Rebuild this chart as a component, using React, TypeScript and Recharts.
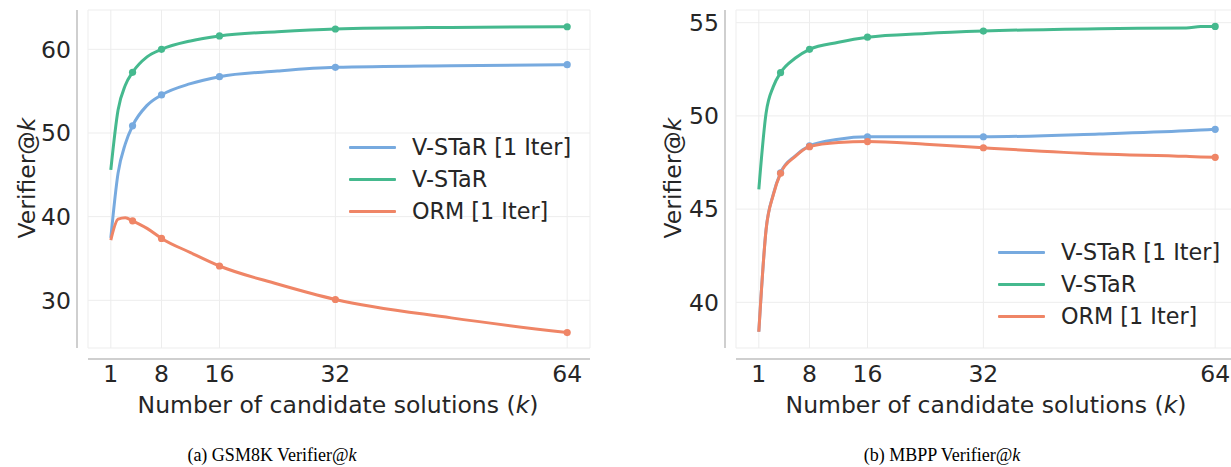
import React from "react";
import {
  LineChart,
  Line,
  XAxis,
  YAxis,
  CartesianGrid,
  Legend,
} from "recharts";

// k values
const ks = [1, 2, 3, 4, 6, 8, 12, 16, 24, 32, 48, 64];
const markerKs = [4, 8, 16, 32, 64];
const xTicks = [1, 8, 16, 32, 64];

// (a) GSM8K
const gsmVstar1 = [37.45, 45.2, 48.7, 50.85, 53.3, 54.55, 55.9, 56.73, 57.4, 57.85, 58.05, 58.16];
const gsmVstar = [45.6, 52.75, 55.7, 57.25, 59.1, 60.0, 61.0, 61.6, 62.1, 62.43, 62.62, 62.7];
const gsmOrm1 = [37.2, 39.7, 39.88, 39.5, 38.6, 37.4, 35.7, 34.1, 31.95, 30.1, 27.9, 26.14];
const gsmYTicks = [30, 40, 50, 60];

// (b) MBPP
const mbppKs = [1, 2, 3, 4, 6, 8, 12, 16, 24, 32, 48, 60, 62, 64];
const mbppVstar1 = [38.42, 43.9, 45.8, 46.95, 47.85, 48.39, 48.75, 48.88, 48.88, 48.88, 49.03, 49.2, 49.24, 49.28];
const mbppVstar = [46.06, 50.14, 51.57, 52.32, 53.09, 53.57, 53.95, 54.22, 54.42, 54.55, 54.68, 54.72, 54.79, 54.8];
const mbppOrm1 = [38.42, 43.88, 45.76, 46.92, 47.81, 48.35, 48.57, 48.62, 48.48, 48.29, 47.96, 47.83, 47.8, 47.78];
const mbppYTicks = [40, 45, 50, 55];

const seriesNames = ["V-STaR [1 Iter]", "V-STaR", "ORM [1 Iter]"];
const colors = ["#77aadf", "#45b98e", "#ef8566"];

const TEXT = "#262626";
const SANS = "DejaVu Sans";
const FS = 23.5;

const buildRows = (xs: number[], a: number[], b: number[], c: number[]) =>
  xs.map((k, i) => ({ k, s0: a[i], s1: b[i], s2: c[i] }));

const renderDot = (props: any) => {
  const { cx, cy, payload, index, stroke } = props;
  if (!markerKs.includes(payload.k)) return <g key={`d-${index}`} />;
  return <circle key={`d-${index}`} cx={cx} cy={cy} r={3.6} fill={stroke} stroke="none" />;
};

const LegendBox = () => (
  <div style={{ fontFamily: SANS, fontSize: 22.3, color: TEXT }}>
    {seriesNames.map((n, i) => (
      <div key={n} style={{ display: "flex", alignItems: "center", height: 32 }}>
        <div style={{ width: 47, height: 3, background: colors[i], marginRight: 16, borderRadius: 1 }} />
        <span>{n}</span>
      </div>
    ))}
  </div>
);

interface PanelProps {
  rows: { k: number; s0: number; s1: number; s2: number }[];
  yDomain: [number, number];
  yTicks: number[];
  legendPos: { left: number; top: number };
}

const Panel = ({ rows, yDomain, yTicks, legendPos }: PanelProps) => (
  <LineChart width={600} height={400} data={rows} margin={{ top: 10, right: 10, left: 0, bottom: 0 }}>
    <CartesianGrid stroke="#ededed" strokeWidth={1} />
    <XAxis
      dataKey="k"
      type="number"
      domain={[-2.15, 67.15]}
      ticks={xTicks}
      allowDataOverflow
      axisLine={false}
      tickLine={false}
      tickSize={0}
      tickMargin={17}
      height={52}
      tick={{ fontFamily: SANS, fontSize: FS, fill: TEXT }}
    />
    <YAxis
      type="number"
      domain={yDomain}
      ticks={yTicks}
      allowDataOverflow
      axisLine={false}
      tickLine={false}
      tickSize={0}
      tickMargin={6 + 11}
      width={88}
      tick={{ fontFamily: SANS, fontSize: FS, fill: TEXT }}
    />
    <Legend
      layout="horizontal"
      verticalAlign="middle"
      align="center"
      content={() => <LegendBox />}
      wrapperStyle={{ position: "absolute", left: legendPos.left, top: legendPos.top, width: "auto", height: "auto" }}
    />
    {["s0", "s1", "s2"].map((key, i) => (
      <Line
        key={key}
        dataKey={key}
        name={seriesNames[i]}
        type="monotone"
        stroke={colors[i]}
        strokeWidth={3}
        dot={renderDot}
        activeDot={false}
        isAnimationActive={false}
      />
    ))}
  </LineChart>
);

const Spines = ({ x0 }: { x0: number }) => (
  <>
    <div style={{ position: "absolute", left: x0 + 76, top: 10, width: 2, height: 338, background: "#cfcfcf" }} />
    <div style={{ position: "absolute", left: x0 + 88, top: 358, width: 502, height: 2, background: "#cfcfcf" }} />
  </>
);

const abs = (left: number, top: number, extra: React.CSSProperties = {}): React.CSSProperties => ({
  position: "absolute",
  left,
  top,
  whiteSpace: "nowrap",
  ...extra,
});

export default function App() {
  const gsmRows = buildRows(ks, gsmVstar1, gsmVstar, gsmOrm1);
  const mbppRows = buildRows(mbppKs, mbppVstar1, mbppVstar, mbppOrm1);
  const axisLabel: React.CSSProperties = { fontFamily: SANS, fontSize: FS, color: TEXT };
  const caption: React.CSSProperties = { fontFamily: "Liberation Serif", fontSize: 18, color: "#000" };
  return (
    <div style={{ position: "absolute", left: 0, top: 0, width: 1231, height: 467, overflow: "hidden", background: "#fff" }}>
      <div style={abs(0, 0)}>
        <Panel rows={gsmRows} yDomain={[24.3, 64.7]} yTicks={gsmYTicks} legendPos={{ left: 349, top: 131 }} />
      </div>
      <div style={abs(648, 0)}>
        <Panel rows={mbppRows} yDomain={[37.55, 55.68]} yTicks={mbppYTicks} legendPos={{ left: 350, top: 236 }} />
      </div>
      <Spines x0={0} />
      <Spines x0={648} />

      <div style={abs(338, 405, { ...axisLabel, transform: "translate(-50%, -50%)" })}>
        Number of candidate solutions (<i>k</i>)
      </div>
      <div style={abs(986, 405, { ...axisLabel, transform: "translate(-50%, -50%)" })}>
        Number of candidate solutions (<i>k</i>)
      </div>
      <div style={abs(27, 178, { ...axisLabel, transform: "translate(-50%, -50%) rotate(-90deg)" })}>
        Verifier@<i>k</i>
      </div>
      <div style={abs(673, 178, { ...axisLabel, transform: "translate(-50%, -50%) rotate(-90deg)" })}>
        Verifier@<i>k</i>
      </div>

      <div style={abs(272, 455, { ...caption, transform: "translate(-50%, -50%)" })}>
        (a) GSM8K Verifier@<i>k</i>
      </div>
      <div style={abs(942, 455, { ...caption, transform: "translate(-50%, -50%)" })}>
        (b) MBPP Verifier@<i>k</i>
      </div>
    </div>
  );
}
